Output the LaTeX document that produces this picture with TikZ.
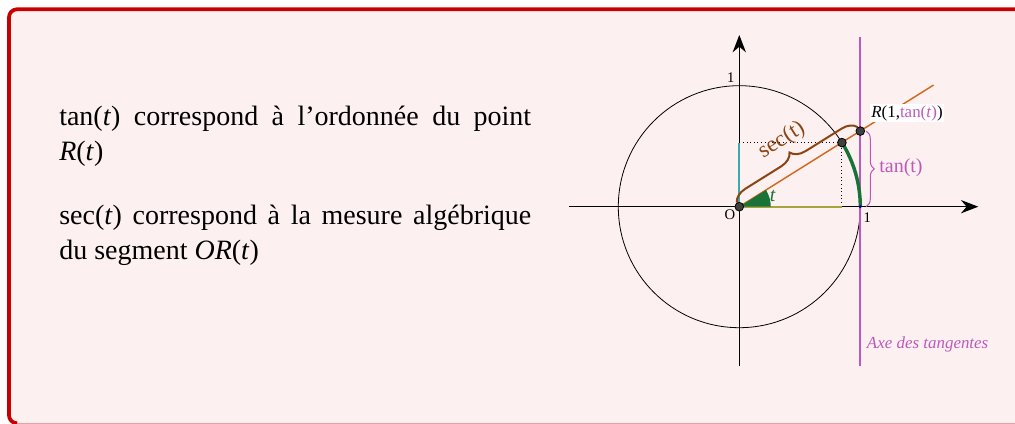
\documentclass[tikz,border=0pt]{standalone}
\usepackage{fontspec}
\setmainfont{Liberation Serif}
\usetikzlibrary{arrows.meta,decorations.pathreplacing}
\definecolor{bgpink}{RGB}{253,240,240}
\definecolor{framered}{RGB}{200,0,0}
\definecolor{framepink}{RGB}{232,160,165}
\definecolor{tanpurple}{RGB}{188,90,188}
\definecolor{secbrown}{RGB}{139,69,19}
\definecolor{linorange}{RGB}{210,105,30}
\definecolor{arcgreen}{RGB}{25,115,55}
\definecolor{sinteal}{RGB}{60,170,170}
\definecolor{cosolive}{RGB}{165,165,60}
\begin{document}
\begin{tikzpicture}[x=0.75pt,y=0.75pt,
  axisline/.style={line width=0.8pt,-{Stealth[length=13pt,width=10pt]}},
  dotpt/.style={circle,fill=black!75,draw=black,line width=0.6pt,inner sep=0pt,minimum size=6.5pt},
  bodytext/.style={anchor=base west,inner sep=0pt,font=\fontsize{21}{26}\selectfont},
  biglabel/.style={inner sep=0pt,font=\fontsize{15}{18}\selectfont},
  midlabel/.style={inner sep=0pt,font=\fontsize{12.7}{15}\selectfont},
  smalllabel/.style={inner sep=0pt,font=\fontsize{11}{13}\selectfont}]
\clip (0,0) rectangle (1015,424);
% frame
\fill[bgpink,rounded corners=6pt] (9,0.7) -- (9,414.7) -- (1030,414.7) -- (1030,0.7) -- cycle;
\draw[framepink,line width=0.8pt] (14,0.7) -- (1015,0.7);
\draw[framered,line width=2.8pt,rounded corners=6pt] (16,0.7) -- (9,0.7) -- (9,414.7) -- (1030,414.7);
% text
\node[bodytext] (l1) at (59,298) {\makebox[354pt][s]{tan(\textit{t}) correspond à l’ordonnée du point}};
\node[bodytext] (l2) at (59,263) {\textit{R}(\textit{t})};
\node[bodytext] (l3) at (59,199) {\makebox[354pt][s]{sec(\textit{t}) correspond à la mesure algébrique}};
\node[bodytext] (l4) at (59,164) {du segment \textit{OR}(\textit{t})};
% diagram
\coordinate (O0) at (739.3,217.3);
\begin{scope}[shift={(O0)},x=90.75pt,y=90.75pt]
\coordinate (O) at (0,0);
\coordinate (P) at (0.848,0.5299);
\coordinate (R) at (1,0.6249);
\coordinate (Q) at (0.848,0);
\coordinate (S) at (0,0.5299);
\coordinate (A) at (1,0);
\coordinate (E) at (1.605,1.005);
\coordinate (xa) at (-1.41,0);
\coordinate (xb) at (1.975,0);
\coordinate (ya) at (0,-1.32);
\coordinate (yb) at (0,1.419);
\coordinate (ta) at (1,1.405);
\coordinate (tb) at (1,-1.317);
\draw[line width=0.6pt] (O) circle (1);
\draw[axisline] (xa) -- (xb);
\draw[axisline] (ya) -- (yb);
\draw[tanpurple,line width=1.5pt] (ta) -- (tb);
\draw[linorange,line width=1.1pt] (O) -- (E);
\draw[dotted,line width=0.7pt] (S) -- (P) -- (Q);
\draw[sinteal,line width=1.5pt] (O) -- (S);
\draw[cosolive,line width=1.6pt] (O) -- (Q);
\draw[arcgreen,line width=2.6pt] (A) arc[start angle=0,end angle=32,radius=1];
\fill[arcgreen] (O) -- (0.26,0) arc[start angle=0,end angle=32,radius=0.26] -- cycle;
\node[biglabel,text=arcgreen,font=\fontsize{15}{18}\selectfont\itshape] (tl) at (0.276,0.088) {t};
\draw[secbrown,line width=1.5pt,decorate,decoration={brace,amplitude=11pt,raise=3.5pt}] (O) -- (R);
\node[inner sep=0pt,font=\fontsize{17}{20}\selectfont,text=secbrown,rotate=32] (secl) at (0.352,0.55) {sec(t)};
\draw[tanpurple,line width=0.8pt,decorate,decoration={brace,amplitude=6pt,raise=4.5pt}] (R) -- (A);
\node[biglabel,text=tanpurple,anchor=west] (tanl) at (1.155,0.326) {tan(t)};
\node[dotpt] (Od) at (O) {};
\node[dotpt] (Pd) at (P) {};
\node[dotpt] (Rd) at (R) {};
\node[circle,fill=blue!60!black,inner sep=0pt,minimum size=2.5pt] (Ad) at (A) {};
\node[smalllabel] (one1) at (-0.071,1.066) {1};
\node[smalllabel] (Ol) at (-0.077,-0.063) {O};
\node[smalllabel] (one2) at (1.058,-0.091) {1};
\node[midlabel,fill=white,inner sep=1pt] (Rl) at (1.386,0.772) {\textit{R}(1,\textcolor{tanpurple}{tan(\textit{t})})};
\node[midlabel,text=tanpurple,anchor=west,font=\fontsize{12.7}{15}\selectfont\itshape] (axl) at (1.053,-1.136) {Axe des tangentes};
\end{scope}
\end{tikzpicture}
\end{document}
